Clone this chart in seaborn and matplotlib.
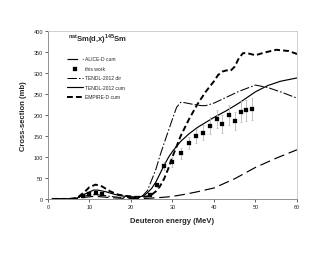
import matplotlib
matplotlib.use("Agg")
import matplotlib.pyplot as plt
import seaborn as sns
import pandas as pd
import numpy as np

# ---- data ----
alice_e = [1, 5, 7, 9, 11, 13, 15, 17, 19, 21, 23, 25, 28, 30, 33, 36, 40, 45, 50, 55, 60]
alice_v = [0, 0, 1, 4, 6, 5, 3, 2, 1, 1, 1, 2, 4, 6, 11, 17, 26, 48, 75, 97, 117]

tdir_e = [1, 5, 7, 9, 11, 13, 15, 17, 19, 21, 22.5, 24, 26, 27, 28.6, 30, 31, 32, 33, 35, 37, 38, 40, 43, 46, 50, 53, 56, 60]
tdir_v = [0, 0, 2, 7, 10, 9, 6, 4, 3, 3, 4, 20, 70, 103, 150, 190, 218, 230, 229, 225, 222, 222, 228, 242, 256, 271, 265, 255, 240]

tcum_e = [1, 5, 7, 9, 11, 12, 14, 16, 18, 20, 22, 23, 24, 25, 26, 27, 28, 29, 30, 32, 34, 36, 38, 40, 43, 46, 50, 53, 56, 60]
tcum_v = [0, 0, 2, 12, 21, 21, 17, 11, 7, 5, 5, 7, 15, 25, 40, 60, 80, 98, 113, 137, 155, 170, 182, 194, 210, 228, 255, 270, 280, 288]

emp_e = [1, 5, 7, 9, 10, 11.5, 13, 15, 17, 19, 21, 22.5, 24, 25, 26, 27, 28, 29, 30, 31, 32, 34, 36, 38, 40, 41, 42, 43, 44, 45, 46, 47, 48, 50, 52, 55, 58, 60]
emp_v = [0, 0, 2, 18, 28, 34, 30, 18, 10, 7, 5, 5, 6, 10, 18, 30, 48, 72, 100, 125, 150, 190, 225, 255, 280, 295, 303, 306, 305, 315, 335, 347, 347, 342, 348, 355, 352, 345]

exp_e = [8.5, 10, 11.5, 13, 24.5, 26.2, 28.0, 30.0, 32.0, 33.9, 35.6, 37.4, 39.0, 40.7, 42.0, 43.6, 45.1, 46.4, 47.7, 49.2]
exp_v = [6, 12, 15, 12, 10, 34, 79, 88, 109, 133, 149, 158, 174, 190, 178, 200, 186, 208, 211, 215]
exp_err = [1, 2, 2, 2, 2, 5, 10, 11, 13, 15, 17, 18, 20, 22, 21, 23, 22, 25, 25, 26]

title_text = r"$^{\mathregular{nat}}$Sm(d,x)$^{\mathregular{145}}$Sm"
x_label = "Deuteron energy (MeV)"
y_label = "Cross-section (mb)"

sns.set_style("white")
plt.rcParams["font.family"] = ["Liberation Sans", "DejaVu Sans"]

fig = plt.figure(figsize=(3.3, 2.55), dpi=100)
ax = fig.add_axes([0.145, 0.216, 0.755, 0.659])

lw = 0.85
sns.lineplot(x=alice_e, y=alice_v, ax=ax, color="black", lw=lw,
             label="ALICE-D cum", linestyle=(0, (9, 4)))
ax.errorbar(exp_e, exp_v, yerr=exp_err, fmt="none", ecolor="#b8b8b8",
            elinewidth=0.6, capsize=1.0, capthick=0.5, zorder=3)
sns.scatterplot(x=exp_e, y=exp_v, ax=ax, color="black", s=5, marker="s",
                edgecolor="black", linewidth=0.2, label="this work", zorder=4)
sns.lineplot(x=tdir_e, y=tdir_v, ax=ax, color="black", lw=0.75,
             label="TENDL-2012 dir", linestyle=(0, (9, 2, 1.5, 2)))
sns.lineplot(x=tcum_e, y=tcum_v, ax=ax, color="black", lw=lw,
             label="TENDL-2012 cum")
sns.lineplot(x=emp_e, y=emp_v, ax=ax, color="black", lw=1.4,
             label="EMPIRE-D cum", linestyle=(0, (3, 1.6)))

ax.set_xlim(0, 60)
ax.set_ylim(0, 400)
ax.set_xticks(range(0, 61, 10))
ax.set_yticks(range(0, 401, 50))
ax.tick_params(axis="both", labelsize=4, length=2, width=0.5, pad=1.5,
               direction="out", left=True, bottom=True)
for s in ["top", "right"]:
    ax.spines[s].set_color("#c8c8c8")
    ax.spines[s].set_linewidth(0.6)
for s in ["left", "bottom"]:
    ax.spines[s].set_color("#808080")
    ax.spines[s].set_linewidth(0.6)

ax.set_xlabel(x_label, fontsize=5.5, fontweight="bold", labelpad=6)
ax.set_ylabel(y_label, fontsize=5.5, fontweight="bold", labelpad=5)

ax.text(0.2, 0.955, title_text, transform=ax.transAxes, fontsize=5.5,
        fontweight="bold", ha="center", va="center")

leg = ax.legend(loc="upper left", bbox_to_anchor=(0.07, 0.86), fontsize=3.6,
                frameon=False, handlelength=3.2, handletextpad=0.4,
                labelspacing=0.9, borderaxespad=0)

fig.savefig("out.png", dpi=100)
